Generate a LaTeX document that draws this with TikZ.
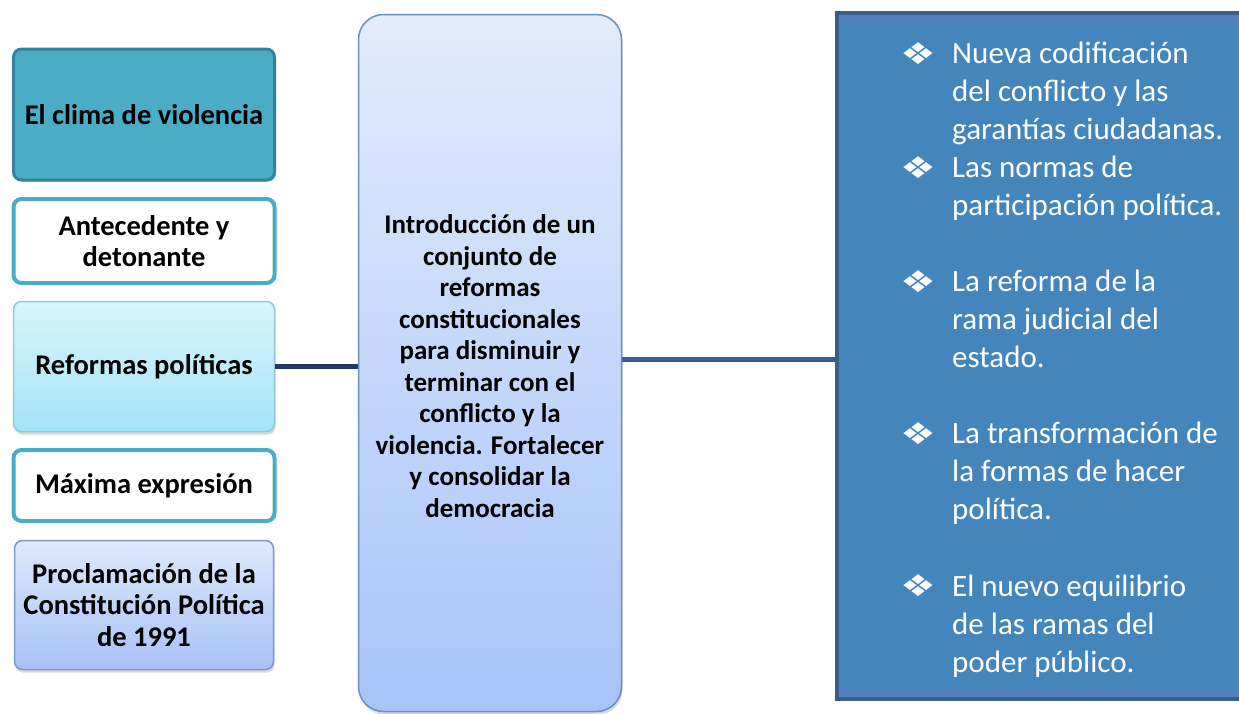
\documentclass[tikz,border=0pt]{standalone}
\usepackage{fontspec}
\setmainfont{Carlito}
\newfontfamily\dejavu{DejaVu Sans}
\usetikzlibrary{shadows}
\definecolor{teal1}{HTML}{4BACC6}
\definecolor{climaB}{HTML}{31849B}
\definecolor{cyanTop}{HTML}{DAF4FB}
\definecolor{cyanBot}{HTML}{A4E4F7}
\definecolor{cyanB}{HTML}{8FCBDD}
\definecolor{lavTop}{HTML}{DDE8FB}
\definecolor{lavBot}{HTML}{A8C2F6}
\definecolor{lavB}{HTML}{7D9ACB}
\definecolor{cenTop}{HTML}{E2ECFC}
\definecolor{cenBot}{HTML}{A8C4F9}
\definecolor{cenB}{HTML}{6A8EC6}
\definecolor{rightFill}{HTML}{4485BC}
\definecolor{rightB}{HTML}{3A5E8C}
\definecolor{rightBand}{HTML}{4F80BD}
\definecolor{navy}{HTML}{1F3864}
\definecolor{connR}{HTML}{3A5F96}
\newcommand{\mybul}{\scalebox{1}[0.75]{\dejavu\fontsize{40}{40}\selectfont ❖}}
\begin{document}
\begin{tikzpicture}[x=1pt,y=-1pt,
  lbox/.style={rectangle, rounded corners=8pt, minimum width=261pt, align=center,
    inner sep=0pt, font=\fontsize{28.5}{31.5}\selectfont\bfseries, text=black},
  softshadow/.style={drop shadow={shadow xshift=1pt, shadow yshift=-3pt, opacity=0.25, fill=black!60}},
  rtext/.style={anchor=base west, align=left, inner sep=0pt, text=white,
    font=\fontsize{31}{38}\selectfont},
  bullet/.style={anchor=center, inner sep=0pt, text=white},
  conn/.style={line width=5pt}
]
\useasboundingbox (0,0) rectangle (1239,713);
\fill[white] (0,0) rectangle (1239,713);

% left column
\node[lbox, fill=teal1, draw=climaB, line width=3pt, minimum height=131pt,
      drop shadow={shadow xshift=1.5pt, shadow yshift=-1.5pt, opacity=0.5, fill=climaB}] (b1) at (144,114.5) {El clima de violencia};
\node[lbox, fill=white, draw=teal1, line width=4pt, minimum height=84pt] (b2) at (144,241) {Antecedente y\\detonante};
\node[lbox, top color=cyanTop, bottom color=cyanBot, draw=cyanB, line width=1.5pt, minimum height=130pt, softshadow] (b3) at (144,366.5) {Reformas políticas};
\node[lbox, fill=white, draw=teal1, line width=4pt, minimum height=71pt] (b4) at (144,485.5) {Máxima expresión};
\node[lbox, minimum width=259pt, top color=lavTop, bottom color=lavBot, draw=lavB, line width=1.5pt, minimum height=129pt, softshadow] (b5) at (144,605) {Proclamación de la\\Constitución Política\\de 1991};

% centre column
\node[rectangle, rounded corners=25pt, minimum width=263pt, minimum height=697pt,
      top color=cenTop, bottom color=cenBot, draw=cenB, line width=1.5pt, softshadow] (c) at (490,363) {};
\node[align=center, inner sep=0pt, font=\fontsize{27}{31.5}\selectfont\bfseries] (ct) at (490,366)
  {Introducción de un\\conjunto de\\reformas\\constitucionales\\para disminuir y\\terminar con el\\conflicto y la\\violencia. Fortalecer\\y consolidar la\\democracia};

% right box
\node[rectangle, minimum width=413pt, minimum height=686pt, fill=rightFill, draw=rightB, line width=4pt,
      drop shadow={shadow xshift=0pt, shadow yshift=-2pt, opacity=0.3}] (r) at (1043,356) {};
\fill[rightBand] (839,15) rectangle (1250,24);
\fill[rightBand] (839,688) rectangle (1250,697);

\node[bullet] (d1) at (918.5,54) {\mybul};
\node[rtext] (t1) at (952,139) {Nueva codificación\\del conflicto y las\\garantías ciudadanas.};
\node[bullet] (d2) at (918.5,168) {\mybul};
\node[rtext] (t2) at (952,215) {Las normas de\\participación política.};
\node[bullet] (d3) at (918.5,282) {\mybul};
\node[rtext] (t3) at (952,367) {La reforma de la\\rama judicial del\\estado.};
\node[bullet] (d4) at (918.5,434) {\mybul};
\node[rtext] (t4) at (952,519) {La transformación de\\la formas de hacer\\política.};
\node[bullet] (d5) at (918.5,586) {\mybul};
\node[rtext] (t5) at (952,672) {El nuevo equilibrio\\de las ramas del\\poder público.};

% connectors
\draw[conn, navy] (b3.east) -- (b3.east -| c.west);
\coordinate (cr) at ([yshift=4pt]c.east);
\draw[conn, connR] (cr) -- (cr -| r.west);
\end{tikzpicture}
\end{document}
